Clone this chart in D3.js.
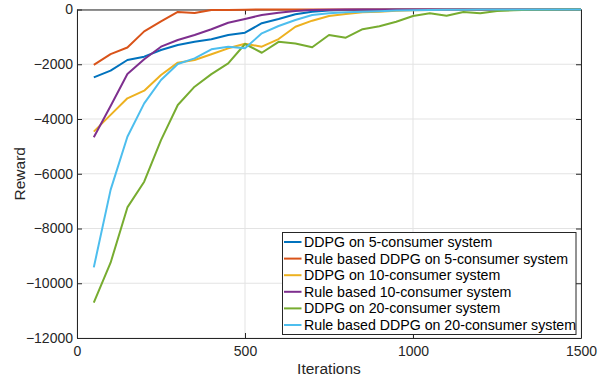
<!DOCTYPE html>
<html>
<head>
<meta charset="utf-8">
<script src="https://cdn.jsdelivr.net/npm/d3@7"></script>
<style>
  body { margin: 0; background: #fff; }
  svg { font-family: "Liberation Sans", Arial, sans-serif; }
</style>
</head>
<body>
<div id="chart"></div>
<script>
// iterations (x values)
const iterations = [50,100,150,200,250,300,350,400,450,500,550,600,650,700,750,800,850,900,950,1000,
                    1050,1100,1150,1200,1250,1300,1350,1400,1450,1500];

// rewards
const ddpg5 = [-2480,-2235,-1845,-1724,-1480,-1297,-1175,-1090,-930,-848,-500,-347,-175,-80,-40,
               -20,-10,-5,0,0,0,0,0,0,0,0,0,0,0,0];
const rule5 = [-2020,-1630,-1390,-800,-430,-90,-130,-20,-15,-5,0,0,0,0,0,
               0,0,0,0,0,0,0,0,0,0,0,0,0,0,0];
const ddpg10 = [-4460,-3850,-3245,-2965,-2393,-1942,-1845,-1637,-1418,-1250,-1358,-1080,-628,-408,-237,
                -164,-100,-80,-50,-30,-20,-10,-5,0,0,0,0,0,0,0];
const rule10 = [-4670,-3525,-2356,-1820,-1358,-1114,-930,-723,-482,-347,-200,-117,-55,-20,-5,
                0,0,0,0,0,0,0,0,0,0,0,0,0,0,0];
const ddpg20 = [-10710,-9250,-7230,-6290,-4770,-3490,-2820,-2360,-1970,-1260,-1580,-1180,-1240,-1380,-930,
                -1030,-720,-610,-450,-240,-140,-230,-90,-140,-55,-30,-10,-5,0,0];
const rule20 = [-9420,-6590,-4650,-3430,-2575,-1990,-1785,-1455,-1358,-1418,-870,-603,-384,-200,-140,
                -103,-80,-60,-40,-30,-20,-10,-5,0,0,0,0,0,0,0];

const seriesNames = ["DDPG on 5-consumer system",
                     "Rule based DDPG on 5-consumer system",
                     "DDPG on 10-consumer system",
                     "Rule based 10-consumer system",
                     "DDPG on 20-consumer system",
                     "Rule based DDPG on 20-consumer system"];
const seriesValues = [ddpg5, rule5, ddpg10, rule10, ddpg20, rule20];
const colors = ["#0072BD","#D95319","#EDB120","#7E2F8E","#77AC30","#4DBEEE"];

const xTicks = [0, 500, 1000, 1500];
const yTicks = [0, -2000, -4000, -6000, -8000, -10000, -12000];

function main(){
  const W = 605, H = 378;
  const margin = {top: 9.5, right: 24, bottom: 40, left: 77};
  const width = W - margin.left - margin.right;
  const height = H - margin.top - margin.bottom;

  const svg = d3.select("#chart")
      .append("svg")
      .attr("width", W)
      .attr("height", H);

  const g = svg.append("g")
      .attr("transform", `translate(${margin.left}, ${margin.top})`);

  const x = d3.scaleLinear().domain([0, 1500]).range([0, width]);
  const y = d3.scaleLinear().domain([-12000, 0]).range([height, 0]);

  // grid
  g.append("g")
    .selectAll("line.vg")
    .data(xTicks)
    .join("line")
    .attr("x1", d => x(d)).attr("x2", d => x(d))
    .attr("y1", 0).attr("y2", height)
    .attr("stroke", "#e3e3e3").attr("stroke-width", 1);
  g.append("g")
    .selectAll("line.hg")
    .data(yTicks)
    .join("line")
    .attr("x1", 0).attr("x2", width)
    .attr("y1", d => y(d)).attr("y2", d => y(d))
    .attr("stroke", "#e3e3e3").attr("stroke-width", 1);

  // axes (ticks point inward)
  const fmt = d3.format("d");
  const axB = g.append("g")
    .attr("transform", `translate(0, ${height})`)
    .call(d3.axisBottom(x).tickValues(xTicks).tickFormat(fmt).tickSizeInner(-5).tickSizeOuter(0).tickPadding(8));
  const axT = g.append("g")
    .call(d3.axisTop(x).tickValues(xTicks).tickFormat("").tickSizeInner(-5).tickSizeOuter(0));
  const axL = g.append("g")
    .call(d3.axisLeft(y).tickValues(yTicks).tickFormat(fmt).tickSizeInner(-5).tickSizeOuter(0).tickPadding(4));
  const axR = g.append("g")
    .attr("transform", `translate(${width}, 0)`)
    .call(d3.axisRight(y).tickValues(yTicks).tickFormat("").tickSizeInner(-5).tickSizeOuter(0));

  [axB, axT, axL, axR].forEach(a => {
    a.select(".domain").attr("stroke", "#262626").attr("stroke-width", 1);
    a.selectAll(".tick line").attr("stroke", "#262626");
    a.selectAll(".tick text")
      .attr("fill", "#262626")
      .style("font-size", "14px")
      .style("font-family", "Liberation Sans, Arial, sans-serif");
  });

  // lines
  const line = d3.line()
      .x((d, i) => x(iterations[i]))
      .y(d => y(d));

  g.append("g")
    .selectAll("path")
    .data(seriesValues)
    .join("path")
    .attr("fill", "none")
    .attr("stroke", (d, i) => colors[i])
    .attr("stroke-width", 2)
    .attr("stroke-linejoin", "round")
    .attr("d", line);

  // axis labels
  svg.append("text")
    .attr("x", margin.left + width / 2)
    .attr("y", 374)
    .attr("text-anchor", "middle")
    .attr("fill", "#262626")
    .style("font-size", "15.5px")
    .text("Iterations");

  svg.append("text")
    .attr("transform", `translate(25, ${margin.top + height / 2}) rotate(-90)`)
    .attr("text-anchor", "middle")
    .attr("fill", "#262626")
    .style("font-size", "15.5px")
    .text("Reward");

  // legend
  const lx = 282.5, ly = 232.5, lw = 293.5, lh = 102;
  const leg = svg.append("g");
  leg.append("rect")
    .attr("x", lx).attr("y", ly)
    .attr("width", lw).attr("height", lh)
    .attr("fill", "#fff")
    .attr("stroke", "#262626")
    .attr("stroke-width", 1);

  const rows = leg.selectAll("g.row")
    .data(seriesNames)
    .join("g")
    .attr("transform", (d, i) => `translate(0, ${ly + 9.5 + i * 16.6})`);
  rows.append("line")
    .attr("x1", lx + 1.5).attr("x2", lx + 19)
    .attr("y1", 0).attr("y2", 0)
    .attr("stroke", (d, i) => colors[i])
    .attr("stroke-width", 2);
  rows.append("text")
    .attr("x", lx + 21.5)
    .attr("y", 5)
    .attr("fill", "#000")
    .style("font-size", "14.2px")
    .text(d => d);
}

main();
</script>
</body>
</html>
